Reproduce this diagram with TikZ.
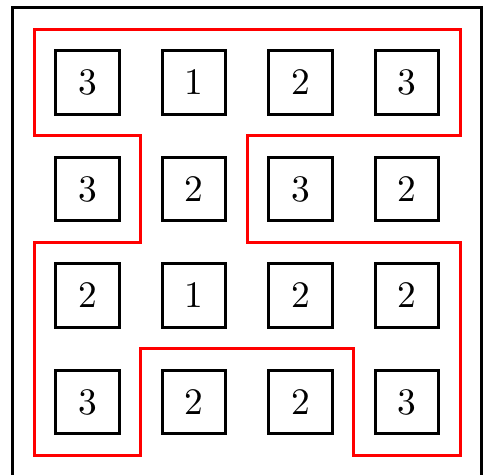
\documentclass[tikz,border=0pt]{standalone}
\begin{document}
\begin{tikzpicture}[thick]
    % Define cell size
    \def\cellSize{0.6cm}

    \definecolor{borderColour}{HTML}{000000}
    \definecolor{pathColour}{HTML}{FF0000}

    % Fix the picture margins
    \useasboundingbox (-0.822,0.775) rectangle (3.798,-3.685);

    % Draw outer frame
    \draw[borderColour] (-0.7,0.7) rectangle (3.7,-3.7);

    % Draw cells with their numbers
    \foreach \row/\vals in {0/{3,1,2,3},1/{3,2,3,2},2/{2,1,2,2},3/{3,2,2,3}}
        \foreach \n [count=\col from 0] in \vals
            \node[draw=borderColour, minimum size=\cellSize, inner sep=0pt] (c\row\col) at (\col,-\row) {\n};

    % Draw red boundary
    \draw[pathColour] (-0.5,0.5) -- (3.5,0.5) -- (3.5,-0.5) -- (1.5,-0.5) -- (1.5,-1.5)
        -- (3.5,-1.5) -- (3.5,-3.5) -- (2.5,-3.5) -- (2.5,-2.5) -- (0.5,-2.5)
        -- (0.5,-3.5) -- (-0.5,-3.5) -- (-0.5,-1.5) -- (0.5,-1.5) -- (0.5,-0.5)
        -- (-0.5,-0.5) -- cycle;

\end{tikzpicture}
\end{document}
